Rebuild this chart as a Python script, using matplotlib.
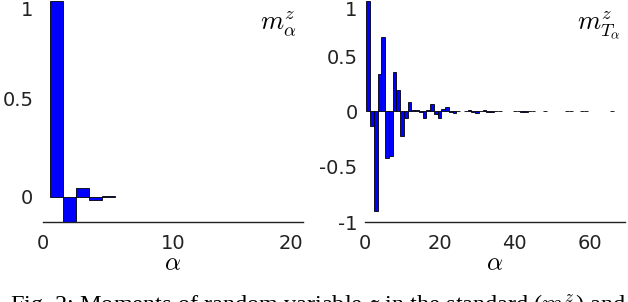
import numpy as np
import matplotlib
matplotlib.use("Agg")
import matplotlib.pyplot as plt

plt.rcParams['font.family'] = ['DejaVu Sans']
plt.rcParams['mathtext.fontset'] = 'cm'
plt.rcParams['axes.unicode_minus'] = False

# standard moments m^z_alpha, alpha = 1..5
alpha_std = [1, 2, 3, 4, 5]
m_std = [1.0, -0.13, 0.045, -0.014, 0.003]

# moments m^z_{T_alpha}, alpha = 1..66
alpha_T = list(range(1, 67))
m_T = [1.0, -0.134, -0.90, 0.336, 0.676, -0.42, -0.40, 0.357, 0.19, -0.22,
       -0.06, 0.085, 0.015, 0.015, -0.005, -0.06, 0.015, 0.07, -0.025, -0.06,
       0.02, 0.04, -0.006, -0.015, 0.005, 0.0, 0.003, 0.012, -0.01, -0.015,
       0.003, 0.012, -0.008, -0.008, 0.003, 0.003, 0.0, 0.0, 0.0, 0.002,
       0.003, -0.004, -0.004, 0.003, 0.003, 0.0, 0.0, 0.001, 0.0, 0.0,
       0.0, 0.0, 0.0, 0.001, 0.001, 0.0, 0.0, 0.001, 0.001, 0.0,
       0.0, 0.0, 0.0, 0.0, 0.0, 0.001]

W, H = 628, 302
fig = plt.figure(figsize=(W / 100, H / 100), dpi=100)

ax1 = fig.add_axes([43 / W, 80 / H, 260 / W, 222 / H])
ax2 = fig.add_axes([364.5 / W, 80 / H, 260.5 / W, 222 / H])


def draw_bars(ax, xs, ys):
    xs = np.asarray(xs)
    ys = np.asarray(ys)
    keep = ys != 0
    ax.bar(xs[keep], ys[keep], width=1.0, color='#0000ff',
           edgecolor='black', linewidth=0.6)


draw_bars(ax1, alpha_std, m_std)
draw_bars(ax2, alpha_T, m_T)

ax1.set_xlim(0, 20)
ax1.set_ylim(-0.128, 1.005)
ax1.set_xticks([0, 10, 20], ['0', '10', '20'])
ax1.set_yticks([0, 0.5, 1], ['0', '0.5', '1'])

ax2.set_xlim(0, 69.4)
ax2.set_ylim(-1.0, 1.007)
ax2.set_xticks([0, 20, 40, 60], ['0', '20', '40', '60'])
ax2.set_yticks([-1, -0.5, 0, 0.5, 1], ['-1', '-0.5', '0', '0.5', '1'])

for ax, ypad in ((ax1, 7), (ax2, 5)):
    for s in ('top', 'right', 'left'):
        ax.spines[s].set_visible(False)
    ax.spines['bottom'].set_color('#222222')
    ax.spines['bottom'].set_linewidth(1.0)
    ax.tick_params(axis='x', length=0, pad=8.5, labelsize=14, colors='#222222')
    ax.tick_params(axis='y', length=0, pad=ypad, labelsize=14, colors='#222222')
    ax.set_facecolor('none')
    ax.get_yticklabels()[-1].set_va('top')

ax1.get_xticklabels()[-1].set_ha('right')

ax1.text(0.975, 0.96, r'$m^z_\alpha$', transform=ax1.transAxes,
         ha='right', va='top', fontsize=19)
ax2.text(0.985, 0.96, r'$m^z_{T_\alpha}$', transform=ax2.transAxes,
         ha='right', va='top', fontsize=19)

fig.text(173 / W, 32 / H, r'$\alpha$', ha='center', va='baseline', fontsize=18)
fig.text(495 / W, 32 / H, r'$\alpha$', ha='center', va='baseline', fontsize=18)

fig.text(10 / W, (H - 293) / H,
         r'Fig. 2: Moments of random variable $z$ in the standard ($m^z_{\alpha}$) and',
         ha='left', va='top', fontsize=17.5, family='Liberation Serif')

fig.savefig('out.png', dpi=100)
